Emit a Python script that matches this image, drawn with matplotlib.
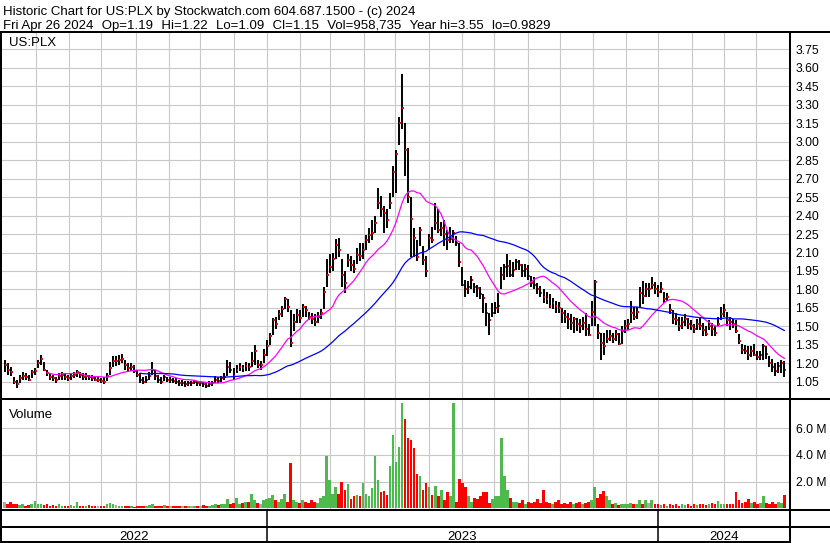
import numpy as np
import pandas as pd
import matplotlib
matplotlib.use("Agg")
import matplotlib.pyplot as plt
from matplotlib.lines import Line2D

plt.rcParams['font.family'] = ['Liberation Sans', 'DejaVu Sans']

# ---------------- data (2-trading-day bars, May 2022 - Apr 26 2024) ----------------
close = [
    1.19, 1.15, 1.13, 1.05, 1.03, 1.08, 1.10, 1.09, 1.07, 1.13,
    1.14, 1.20, 1.24, 1.15, 1.12, 1.09, 1.08, 1.07, 1.10, 1.11,
    1.09, 1.08, 1.10, 1.11, 1.13, 1.11, 1.09, 1.10, 1.09, 1.08,
    1.07, 1.07, 1.06, 1.05, 1.10, 1.16, 1.22, 1.22, 1.23, 1.24,
    1.19, 1.16, 1.17, 1.14, 1.11, 1.07, 1.05, 1.07, 1.10, 1.15,
    1.10, 1.07, 1.05, 1.09, 1.07, 1.07, 1.06, 1.05, 1.04, 1.04,
    1.03, 1.04, 1.04, 1.05, 1.04, 1.04, 1.03, 1.02, 1.03, 1.04,
    1.07, 1.06, 1.08, 1.09, 1.17, 1.15, 1.10, 1.15, 1.17, 1.16,
    1.18, 1.17, 1.22, 1.30, 1.19, 1.19, 1.27, 1.34, 1.42, 1.55,
    1.52, 1.60, 1.64, 1.72, 1.66, 1.37, 1.54, 1.59, 1.57, 1.66,
    1.63, 1.58, 1.56, 1.54, 1.58, 1.61, 1.78, 1.92, 1.98, 2.05,
    2.16, 2.12, 1.92, 1.85, 2.04, 2.00, 1.97, 2.08, 2.07, 2.12,
    2.20, 2.24, 2.26, 2.34, 2.50, 2.45, 2.42, 2.36, 2.50, 2.75,
    2.90, 3.15, 3.27, 2.93, 2.55, 2.37, 2.22, 2.06, 2.28, 2.04,
    1.95, 2.22, 2.20, 2.34, 2.28, 2.30, 2.25, 2.20, 2.21, 2.26,
    2.18, 2.02, 1.84, 1.80, 1.82, 1.88, 1.82, 1.81, 1.76, 1.73,
    1.61, 1.55, 1.61, 1.65, 1.67, 1.92, 1.98, 1.99, 1.92, 1.96,
    2.02, 2.00, 1.95, 1.97, 1.91, 1.85, 1.84, 1.80, 1.77, 1.74,
    1.72, 1.67, 1.69, 1.67, 1.65, 1.61, 1.58, 1.56, 1.53, 1.56,
    1.52, 1.50, 1.53, 1.48, 1.43, 1.62, 1.86, 1.45, 1.37, 1.34,
    1.40, 1.42, 1.40, 1.44, 1.36, 1.46, 1.50, 1.52, 1.61, 1.58,
    1.62, 1.77, 1.75, 1.80, 1.80, 1.84, 1.80, 1.78, 1.80, 1.72,
    1.74, 1.63, 1.56, 1.55, 1.50, 1.54, 1.56, 1.52, 1.50, 1.48,
    1.52, 1.50, 1.47, 1.44, 1.50, 1.48, 1.45, 1.52, 1.60, 1.63,
    1.55, 1.54, 1.52, 1.46, 1.38, 1.31, 1.30, 1.27, 1.30, 1.27,
    1.25, 1.27, 1.34, 1.28, 1.20, 1.17, 1.14, 1.18, 1.20, 1.15,
]
high = [
    1.23, 1.20, 1.17, 1.09, 1.07, 1.11, 1.13, 1.12, 1.11, 1.15,
    1.16, 1.23, 1.27, 1.21, 1.15, 1.12, 1.11, 1.09, 1.12, 1.13,
    1.12, 1.11, 1.12, 1.13, 1.15, 1.13, 1.12, 1.12, 1.11, 1.11,
    1.10, 1.09, 1.08, 1.09, 1.12, 1.21, 1.26, 1.26, 1.27, 1.28,
    1.23, 1.20, 1.20, 1.19, 1.15, 1.12, 1.09, 1.10, 1.13, 1.21,
    1.15, 1.11, 1.09, 1.11, 1.09, 1.09, 1.08, 1.08, 1.07, 1.07,
    1.06, 1.06, 1.06, 1.07, 1.06, 1.06, 1.05, 1.05, 1.06, 1.06,
    1.10, 1.09, 1.10, 1.12, 1.23, 1.21, 1.16, 1.19, 1.20, 1.19,
    1.21, 1.20, 1.29, 1.35, 1.23, 1.22, 1.32, 1.39, 1.45, 1.57,
    1.58, 1.63, 1.67, 1.74, 1.72, 1.63, 1.60, 1.64, 1.63, 1.68,
    1.67, 1.62, 1.61, 1.60, 1.62, 1.64, 1.82, 2.05, 2.09, 2.10,
    2.21, 2.22, 2.05, 1.95, 2.09, 2.07, 2.04, 2.14, 2.18, 2.18,
    2.24, 2.30, 2.36, 2.40, 2.62, 2.56, 2.48, 2.45, 2.58, 2.80,
    2.93, 3.20, 3.55, 3.15, 2.95, 2.55, 2.30, 2.20, 2.31, 2.15,
    2.07, 2.25, 2.31, 2.50, 2.45, 2.35, 2.36, 2.28, 2.31, 2.28,
    2.23, 2.18, 1.98, 1.88, 1.87, 1.91, 1.85, 1.84, 1.82, 1.76,
    1.69, 1.61, 1.69, 1.70, 1.77, 1.98, 2.01, 2.09, 2.04, 2.02,
    2.05, 2.04, 2.01, 2.01, 2.00, 1.91, 1.90, 1.85, 1.83, 1.80,
    1.78, 1.76, 1.73, 1.71, 1.70, 1.65, 1.63, 1.61, 1.60, 1.58,
    1.57, 1.56, 1.58, 1.61, 1.52, 1.71, 1.88, 1.52, 1.45, 1.45,
    1.47, 1.47, 1.45, 1.47, 1.45, 1.50, 1.55, 1.56, 1.71, 1.66,
    1.66, 1.82, 1.87, 1.85, 1.85, 1.90, 1.86, 1.84, 1.86, 1.78,
    1.77, 1.68, 1.63, 1.61, 1.58, 1.58, 1.60, 1.57, 1.55, 1.52,
    1.56, 1.57, 1.53, 1.50, 1.55, 1.53, 1.50, 1.58, 1.66, 1.68,
    1.62, 1.58, 1.56, 1.55, 1.44, 1.36, 1.35, 1.34, 1.34, 1.36,
    1.30, 1.30, 1.36, 1.34, 1.26, 1.24, 1.20, 1.21, 1.23, 1.22,
]
low = [
    1.13, 1.11, 1.10, 1.03, 1.00, 1.04, 1.07, 1.07, 1.06, 1.08,
    1.11, 1.16, 1.19, 1.14, 1.10, 1.07, 1.06, 1.04, 1.07, 1.07,
    1.07, 1.06, 1.07, 1.08, 1.09, 1.08, 1.07, 1.07, 1.07, 1.06,
    1.06, 1.05, 1.04, 1.03, 1.06, 1.11, 1.17, 1.18, 1.19, 1.20,
    1.15, 1.13, 1.14, 1.12, 1.09, 1.04, 1.03, 1.04, 1.07, 1.11,
    1.07, 1.04, 1.03, 1.06, 1.05, 1.04, 1.04, 1.03, 1.02, 1.02,
    1.01, 1.02, 1.02, 1.03, 1.02, 1.02, 1.01, 1.00, 1.01, 1.02,
    1.04, 1.04, 1.05, 1.07, 1.10, 1.12, 1.07, 1.12, 1.14, 1.13,
    1.14, 1.14, 1.17, 1.19, 1.16, 1.15, 1.20, 1.26, 1.35, 1.43,
    1.48, 1.55, 1.58, 1.64, 1.62, 1.33, 1.46, 1.53, 1.53, 1.58,
    1.58, 1.55, 1.52, 1.50, 1.53, 1.56, 1.64, 1.82, 1.93, 1.95,
    2.05, 2.06, 1.82, 1.77, 1.98, 1.95, 1.93, 2.01, 2.03, 2.05,
    2.12, 2.18, 2.20, 2.26, 2.45, 2.39, 2.26, 2.30, 2.45, 2.55,
    2.58, 2.97, 3.10, 2.72, 2.50, 2.06, 2.06, 2.03, 2.15, 2.00,
    1.90, 2.12, 2.18, 2.28, 2.26, 2.23, 2.15, 2.12, 2.18, 2.18,
    2.15, 1.98, 1.83, 1.74, 1.76, 1.80, 1.77, 1.74, 1.72, 1.61,
    1.50, 1.43, 1.58, 1.60, 1.61, 1.80, 1.88, 1.90, 1.90, 1.90,
    1.96, 1.96, 1.90, 1.90, 1.88, 1.82, 1.80, 1.76, 1.74, 1.69,
    1.68, 1.65, 1.64, 1.61, 1.61, 1.53, 1.53, 1.48, 1.47, 1.45,
    1.46, 1.45, 1.47, 1.42, 1.42, 1.50, 1.50, 1.40, 1.23, 1.27,
    1.37, 1.38, 1.37, 1.38, 1.35, 1.36, 1.45, 1.47, 1.53, 1.55,
    1.56, 1.66, 1.68, 1.74, 1.74, 1.80, 1.76, 1.74, 1.77, 1.69,
    1.71, 1.60, 1.52, 1.51, 1.46, 1.48, 1.50, 1.48, 1.47, 1.45,
    1.47, 1.47, 1.42, 1.42, 1.47, 1.42, 1.42, 1.50, 1.55, 1.58,
    1.50, 1.47, 1.49, 1.45, 1.36, 1.28, 1.28, 1.23, 1.25, 1.26,
    1.23, 1.23, 1.23, 1.24, 1.17, 1.13, 1.10, 1.12, 1.12, 1.09,
]
volume_m = [
    0.50, 0.30, 0.45, 0.30, 0.35, 0.25, 0.30, 0.20, 0.25, 0.30,
    0.55, 0.30, 0.35, 0.25, 0.30, 0.20, 0.25, 0.20, 0.30, 0.20,
    0.15, 0.20, 0.25, 0.20, 0.50, 0.20, 0.15, 0.20, 0.25, 0.15,
    0.20, 0.15, 0.20, 0.20, 0.30, 0.40, 0.30, 0.25, 0.20, 0.20,
    0.15, 0.20, 0.15, 0.10, 0.15, 0.20, 0.15, 0.20, 0.25, 0.30,
    0.20, 0.15, 0.20, 0.25, 0.15, 0.20, 0.15, 0.20, 0.15, 0.20,
    0.20, 0.15, 0.20, 0.20, 0.15, 0.20, 0.25, 0.20, 0.20, 0.25,
    0.30, 0.25, 0.30, 0.35, 0.70, 0.30, 0.40, 0.75, 0.30, 0.40,
    0.50, 0.45, 1.10, 0.60, 0.40, 0.30, 0.60, 0.70, 0.80, 1.00,
    0.60, 0.50, 0.70, 1.10, 0.50, 3.40, 0.60, 0.50, 0.40, 0.60,
    0.50, 0.40, 0.60, 0.50, 0.40, 0.80, 0.90, 3.90, 2.10, 1.10,
    1.60, 1.10, 2.00, 1.40, 1.80, 0.70, 0.90, 1.00, 0.90, 1.90,
    1.10, 0.90, 1.50, 3.90, 2.10, 1.20, 1.30, 1.00, 3.20, 5.50,
    3.50, 4.60, 7.90, 6.70, 5.30, 5.10, 4.50, 2.60, 2.45, 1.40,
    1.90, 1.60, 1.00, 1.70, 0.90, 1.40, 0.60, 1.20, 0.90, 7.90,
    0.50, 2.20, 1.90, 1.60, 0.90, 0.50, 0.80, 0.70, 0.90, 1.20,
    1.20, 0.40, 0.70, 0.90, 0.90, 5.30, 2.45, 1.40, 0.80, 0.50,
    0.50, 0.40, 0.60, 0.30, 0.50, 0.40, 0.50, 0.70, 0.40, 1.40,
    0.50, 0.40, 0.30, 0.50, 0.60, 0.30, 0.40, 0.35, 0.50, 0.30,
    0.40, 0.50, 0.30, 0.40, 0.45, 0.60, 1.60, 0.80, 1.10, 1.30,
    0.95, 0.60, 0.35, 0.40, 0.25, 0.30, 0.35, 0.30, 0.40, 0.30,
    0.35, 0.60, 0.30, 0.64, 0.40, 0.64, 0.30, 0.35, 0.25, 0.30,
    0.20, 0.30, 0.25, 0.35, 0.20, 0.30, 0.25, 0.30, 0.20, 0.30,
    0.25, 0.35, 0.30, 0.25, 0.30, 0.40, 0.35, 0.55, 0.30, 0.35,
    0.30, 0.35, 0.30, 1.20, 0.60, 0.40, 0.50, 0.70, 0.40, 0.50,
    0.30, 0.40, 0.90, 0.40, 0.30, 0.45, 0.35, 0.50, 0.40, 0.96,
]
price_ticks = [1.05, 1.20, 1.35, 1.50, 1.65, 1.80, 1.95, 2.10, 2.25, 2.40,
               2.55, 2.70, 2.85, 3.00, 3.15, 3.30, 3.45, 3.60, 3.75]
vol_ticks = [2.0, 4.0, 6.0]
vol_tick_labels = ['2.0 M', '4.0 M', '6.0 M']
header_line1 = "Historic Chart for US:PLX by Stockwatch.com 604.687.1500 - (c) 2024"
header_fields = ["Fri Apr 26 2024", "Op=1.19", "Hi=1.22", "Lo=1.09", "Cl=1.15",
                 "Vol=958,735", "Year hi=3.55", "lo=0.9829"]
symbol = "US:PLX"
ma_short_bars = 15   # ~30 trading days
ma_long_bars = 46    # ~90 trading days

n = len(close)
assert len(high) == n and len(low) == n and len(volume_m) == n, (n, len(high), len(low), len(volume_m))

days = pd.bdate_range('2022-05-02', '2024-04-26')
# bar i covers days 2i, 2i+1 ; day d sits at coordinate (d-0.5)/2
x = np.arange(n)
c = np.array(close); h = np.array(high); l = np.array(low); v = np.array(volume_m)

month_pos = []
year_pos = []
for d in range(1, len(days)):
    if days[d].month != days[d - 1].month:
        month_pos.append((d - 1) / 2.0)
        if days[d].year != days[d - 1].year:
            year_pos.append(((d - 1) / 2.0, days[d].year))

# ---------------- figure ----------------
W, H = 830.0, 543.0
fig = plt.figure(figsize=(W / 100, H / 100), dpi=100)


def px_axes(x0, y0, x1, y1, **kw):
    return fig.add_axes([x0 / W, 1 - y1 / H, (x1 - x0) / W, (y1 - y0) / H], **kw)


GRID = '#c8c8c8'
x_lo, x_hi = -1.25, 260.9
FS = 9.5

ax = px_axes(1, 33, 790, 399)
axv = px_axes(1, 399, 790, 509.5)
axd = px_axes(1, 509.5, 790, 542)

for a in (ax, axv, axd):
    a.set_xlim(x_lo, x_hi)
    for s in a.spines.values():
        s.set_visible(False)
    a.set_xticks([])
    a.patch.set_facecolor('white')

# price panel
ax.set_ylim(0.912, 3.880)
for m in month_pos:
    ax.axvline(m, color=GRID, lw=0.8, zorder=0)
for t in price_ticks:
    ax.axhline(t, color=GRID, lw=0.8, zorder=0)
ax.yaxis.tick_right()
ax.set_yticks(price_ticks)
ax.set_yticklabels([f"{t:.2f}" for t in price_ticks])
ax.tick_params(axis='y', length=0, pad=4, labelsize=8.7, labelcolor='black')

ax.vlines(x, l, h, color='black', lw=1.4, zorder=3)
ax.hlines(c, x + 0.1, x + 0.65, color='red', lw=1.4, zorder=4)

ma_s = pd.Series(c).rolling(ma_short_bars).mean()
ma_l = pd.Series(c).rolling(ma_long_bars).mean()
ax.plot(x, ma_s, color='#ff00ff', lw=0.9, zorder=5)
ax.plot(x, ma_l, color='#0000ff', lw=0.9, zorder=5)

# volume panel
axv.set_ylim(-0.09, 8.19)
for m in month_pos:
    axv.axvline(m, color=GRID, lw=0.8, zorder=0)
for t in vol_ticks:
    axv.axhline(t, color=GRID, lw=0.8, zorder=0)
axv.yaxis.tick_right()
axv.set_yticks(vol_ticks)
axv.set_yticklabels(vol_tick_labels)
axv.tick_params(axis='y', length=0, pad=4, labelsize=8.7, labelcolor='black')
chg = np.diff(np.concatenate([[c[0]], c]))
vcol = np.where(chg > 0, '#4cbb4c', np.where(chg < 0, '#ff0000', '#a8a8a8'))
axv.bar(x, v, width=0.9, color=vcol, zorder=3, linewidth=0)

# date band
axd.set_ylim(542, 509.5)
axd.set_yticks([])
bounds = [x_lo] + [p for p, _ in year_pos] + [x_hi]
years = [days[0].year] + [y for _, y in year_pos]
for p, _ in year_pos:
    axd.plot([p, p], [509.5, 542], color='black', lw=1.1)
for i, yr in enumerate(years):
    axd.text((bounds[i] + bounds[i + 1]) / 2, 539.5, str(yr), ha='center',
             va='baseline', fontsize=FS)

# overlay for frame & header (pixel coords)
ov = px_axes(0, 0, 830, 543)
ov.set_xlim(0, W)
ov.set_ylim(H, 0)
ov.axis('off')
ov.patch.set_alpha(0)
lw2 = 1.45
frame = [((0, 830), (32, 32)), ((1, 1), (32, 543)), ((790, 790), (32, 543)),
         ((0, 830), (399, 399)), ((0, 830), (509.5, 509.5)),
         ((0, 830), (526.5, 526.5)), ((0, 790), (541.8, 541.8))]
for xs, ys in frame:
    ov.add_line(Line2D(xs, ys, color='black', lw=lw2))

ov.text(3, 15, header_line1, fontsize=FS, va='baseline', ha='left')
ov.text(3, 28.5, "  \u200a".join(header_fields), fontsize=FS, va='baseline', ha='left')
ov.text(9, 46, symbol, fontsize=FS, va='baseline', ha='left')
ov.text(9, 417.5, "Volume", fontsize=FS, va='baseline', ha='left')

fig.savefig('out.png', dpi=100)
